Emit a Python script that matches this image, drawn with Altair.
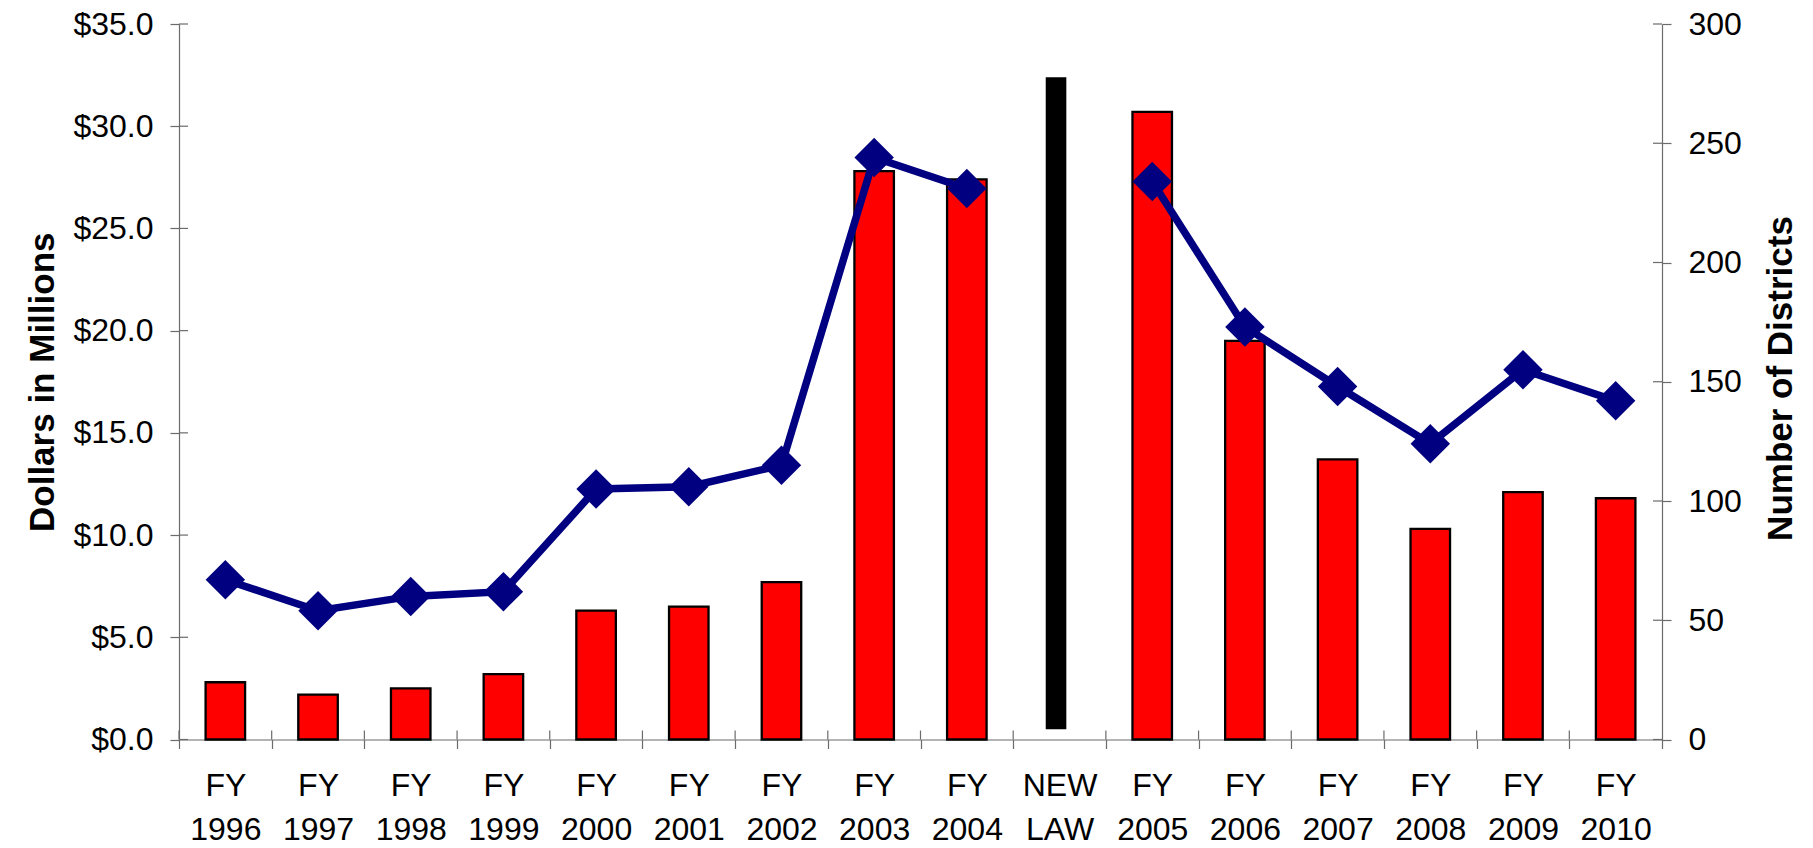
import altair as alt
import pandas as pd

# Fiscal years on the x axis; "NEW LAW" marks the change in legislation
categories = [
    "FY 1996", "FY 1997", "FY 1998", "FY 1999", "FY 2000", "FY 2001",
    "FY 2002", "FY 2003", "FY 2004", "NEW LAW", "FY 2005", "FY 2006",
    "FY 2007", "FY 2008", "FY 2009", "FY 2010",
]
# Dollars in millions (red bars, left axis)
dollars = [2.8, 2.2, 2.5, 3.2, 6.3, 6.5, 7.7, 27.8, 27.4, None,
           30.7, 19.5, 13.7, 10.3, 12.1, 11.8]
# Number of districts (blue line, right axis)
districts = [67, 54, 60, 62, 105, 106, 115, 244, 231, None,
             234, 173, 148, 124, 155, 142]
# Line is broken at the new law: before / after
segments = ["before"] * 9 + [None] + ["after"] * 6

# The black divider bar for the new law, in dollar units
law_category = ["NEW LAW"]
law_low = [0.5]
law_high = [32.4]

left_ticks = [0, 5, 10, 15, 20, 25, 30, 35]
right_ticks = [0, 50, 100, 150, 200, 250, 300]

W, H = 1483, 715.5
FONT = "Liberation Sans"
AXIS_GREY = "#6b6b6b"
TICK = 9

df = pd.DataFrame({"cat": categories, "dollars": dollars,
                   "districts": districts, "segment": segments})
law_df = pd.DataFrame({"cat": law_category, "lo": law_low, "hi": law_high})
left_tick_df = pd.DataFrame({"v": left_ticks})
right_tick_df = pd.DataFrame({"v": right_ticks})

x_scale = alt.Scale(domain=categories, paddingInner=0, paddingOuter=0)
left_scale = alt.Scale(domain=[0, 35], nice=False, zero=True)
right_scale = alt.Scale(domain=[0, 300], nice=False, zero=True)

common = dict(
    labelFont=FONT, labelFontSize=32, labelColor="black",
    tickSize=TICK, tickColor=AXIS_GREY, domainColor=AXIS_GREY,
    tickWidth=1.2, domainWidth=1.2, grid=False,
    titleFont=FONT, titleFontSize=35, titleFontWeight="bold",
    titleColor="black",
)

x_axis = alt.Axis(
    title=None, labelAngle=0, labelExpr="split(datum.label, ' ')",
    labelLineHeight=44, labelPadding=22, tickBand="extent", **common,
)

left_axis = alt.Axis(
    title="Dollars in Millions", values=left_ticks, format="$.1f",
    labelPadding=17, titleAngle=270, titleBaseline="alphabetic",
    titleAlign="center", titleX=-126, titleY=H / 2, **common,
)

right_axis = alt.Axis(
    orient="right", title="Number of Districts", values=right_ticks,
    labelPadding=17, titleAngle=270, titleBaseline="alphabetic",
    titleAlign="center", titleX=129, titleY=354, **common,
)

X = alt.X("cat:N", sort=categories, scale=x_scale, axis=x_axis)

bars = alt.Chart(df).mark_bar(
    size=39.5, color="#ff0000", stroke="black", strokeWidth=2.3
).encode(
    x=X,
    y=alt.Y("dollars:Q", scale=left_scale, axis=left_axis),
)

law_bar = alt.Chart(law_df).mark_bar(
    size=20.6, color="black", xOffset=-3.5
).encode(
    x=X,
    y=alt.Y("lo:Q", scale=left_scale, axis=left_axis),
    y2="hi:Q",
)

# inner halves of the crossing tick marks
left_inner = alt.Chart(left_tick_df).mark_rule(
    color=AXIS_GREY, strokeWidth=1.2
).encode(
    y=alt.Y("v:Q", scale=left_scale, axis=left_axis),
    x=alt.value(0), x2=alt.value(TICK),
)

bottom_inner = alt.Chart(df).mark_rule(
    color=AXIS_GREY, strokeWidth=1.2
).encode(
    x=alt.X("cat:N", sort=categories, scale=x_scale, axis=x_axis,
            bandPosition=0),
    y=alt.value(H - TICK), y2=alt.value(H),
)

left_group = alt.layer(bars, law_bar, left_inner, bottom_inner)

line_df = df.dropna(subset=["districts"])

line = alt.Chart(line_df).mark_line(color="#000080", strokeWidth=7.5).encode(
    x=X,
    y=alt.Y("districts:Q", scale=right_scale, axis=right_axis),
    detail="segment:N",
)

points = alt.Chart(line_df).mark_point(
    shape="diamond", filled=True, size=1560, color="#000080", opacity=1
).encode(
    x=X,
    y=alt.Y("districts:Q", scale=right_scale, axis=right_axis),
)

right_inner = alt.Chart(right_tick_df).mark_rule(
    color=AXIS_GREY, strokeWidth=1.2
).encode(
    y=alt.Y("v:Q", scale=right_scale, axis=right_axis),
    x=alt.value(W - TICK), x2=alt.value(W),
)

right_group = alt.layer(right_inner, line, points)

chart = alt.layer(left_group, right_group).resolve_scale(
    y="independent"
).properties(
    width=W, height=H,
    autosize=alt.AutoSizeParams(type="none"),
    padding={"left": 179, "top": 24, "right": 151, "bottom": 108.5},
    background="white",
).configure_view(stroke=None)

chart.save("out.html", embed_options={"renderer": "svg", "actions": False})
